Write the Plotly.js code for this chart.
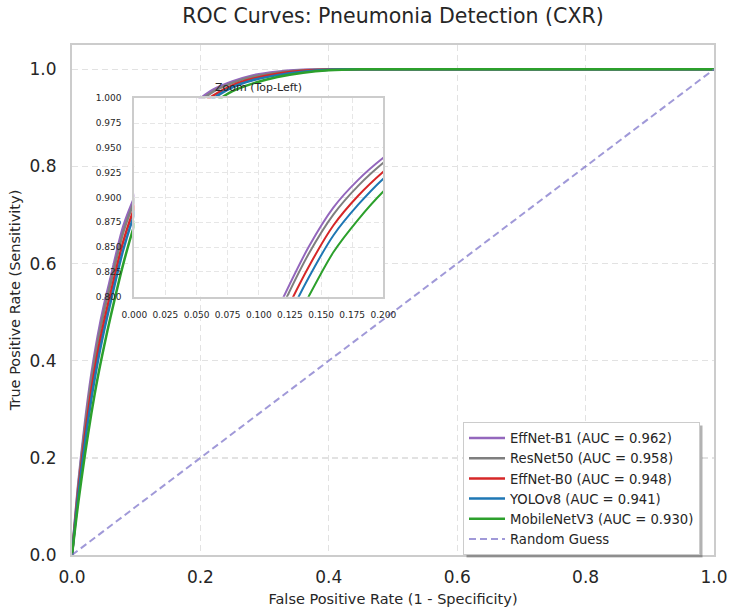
<!DOCTYPE html>
<html>
<head>
<meta charset="utf-8">
<script src="https://cdn.plot.ly/plotly-3.0.1.min.js"></script>
<style>html,body{margin:0;padding:0;background:#fff;}#chart{width:731px;height:610px;}</style>
</head>
<body>
<div id="chart"></div>
<script>
// ---- data ----
const fpr = [0, 0.01, 0.02, 0.03, 0.04, 0.05, 0.06, 0.08, 0.10, 0.12, 0.14, 0.16, 0.18, 0.20, 0.22, 0.25, 0.28, 0.32, 0.36, 0.40, 0.45, 0.50, 0.60, 0.70, 0.80, 0.90, 1.0];
const tprEffNetB1   = [0, 0.150, 0.270, 0.370, 0.450, 0.515, 0.570, 0.677, 0.745, 0.800, 0.850, 0.890, 0.918, 0.940, 0.958, 0.975, 0.987, 0.995, 0.999, 1.0, 1.0, 1.0, 1.0, 1.0, 1.0, 1.0, 1.0];
const tprResNet50   = [0, 0.144, 0.260, 0.358, 0.437, 0.502, 0.558, 0.665, 0.737, 0.793, 0.843, 0.883, 0.912, 0.935, 0.954, 0.972, 0.984, 0.993, 0.998, 1.0, 1.0, 1.0, 1.0, 1.0, 1.0, 1.0, 1.0];
const tprEffNetB0   = [0, 0.134, 0.244, 0.338, 0.416, 0.481, 0.538, 0.646, 0.723, 0.780, 0.830, 0.872, 0.902, 0.926, 0.946, 0.967, 0.980, 0.991, 0.997, 0.999, 1.0, 1.0, 1.0, 1.0, 1.0, 1.0, 1.0];
const tprYOLOv8     = [0, 0.125, 0.230, 0.320, 0.397, 0.462, 0.520, 0.629, 0.711, 0.769, 0.819, 0.862, 0.893, 0.919, 0.940, 0.963, 0.977, 0.988, 0.995, 0.999, 1.0, 1.0, 1.0, 1.0, 1.0, 1.0, 1.0];
const tprMobileNet  = [0, 0.110, 0.205, 0.290, 0.365, 0.430, 0.490, 0.600, 0.690, 0.750, 0.800, 0.845, 0.878, 0.906, 0.929, 0.955, 0.970, 0.984, 0.993, 0.998, 1.0, 1.0, 1.0, 1.0, 1.0, 1.0, 1.0];
const modelNames = ["EffNet-B1", "ResNet50", "EffNet-B0", "YOLOv8", "MobileNetV3"];
const aucValues  = [0.962, 0.958, 0.948, 0.941, 0.930];
const randomX = [0, 1];
const randomY = [0, 1];
const xTicks = [0, 0.2, 0.4, 0.6, 0.8, 1.0];
const yTicks = [0, 0.2, 0.4, 0.6, 0.8, 1.0];
const insetXTicks = [0, 0.025, 0.05, 0.075, 0.1, 0.125, 0.15, 0.175, 0.2];
const insetYTicks = [0.8, 0.825, 0.85, 0.875, 0.9, 0.925, 0.95, 0.975, 1.0];

// ---- styles ----
const series = [tprEffNetB1, tprResNet50, tprEffNetB0, tprYOLOv8, tprMobileNet];
const colors = ["#9467bd", "#7f7f7f", "#d62728", "#1f77b4", "#2ca02c"];
const FONT = "DejaVu Sans, Verdana, sans-serif";
const TXT = "#262626";

const traces = [];
series.forEach((tpr, i) => {
  traces.push({
    x: fpr, y: tpr, type: "scatter", mode: "lines",
    name: modelNames[i] + " (AUC = " + aucValues[i].toFixed(3) + ")",
    line: {color: colors[i], width: 2.5, shape: "spline", smoothing: 0.8},
    xaxis: "x", yaxis: "y", hoverinfo: "skip"
  });
});
traces.push({
  x: randomX, y: randomY, type: "scatter", mode: "lines", name: "Random Guess",
  line: {color: "rgba(120,110,200,0.7)", width: 2, dash: "7px,4px"},
  xaxis: "x", yaxis: "y"
});
series.forEach((tpr, i) => {
  traces.push({
    x: fpr, y: tpr, type: "scatter", mode: "lines", showlegend: false,
    line: {color: colors[i], width: 2, shape: "spline", smoothing: 0.8},
    xaxis: "x2", yaxis: "y2", hoverinfo: "skip"
  });
});

const W = 731, H = 610;
const L = 72, R = 714, T = 45, B = 555;
const pw = R - L, ph = B - T;
const px = v => (v - L) / pw;
const py = v => (B - v) / ph;

const layout = {
  width: W, height: H,
  margin: {l: L, r: W - R, t: T, b: H - B, pad: 0},
  paper_bgcolor: "#ffffff", plot_bgcolor: "#ffffff",
  font: {family: FONT, color: TXT},
  showlegend: true,
  title: {text: "ROC Curves: Pneumonia Detection (CXR)", font: {size: 20.5, color: TXT, family: FONT},
          x: 0.5, xref: "paper", xanchor: "center", y: 1 - 16 / H, yref: "container", yanchor: "middle"},
  xaxis: {
    domain: [0, 1], range: [0, 1], tickvals: xTicks, tickformat: ".1f",
    tickfont: {size: 17, color: TXT}, ticks: "", ticklabelstandoff: 6,
    showgrid: true, gridcolor: "#e2e2e2", gridwidth: 1.3, griddash: "6px,4px",
    showline: true, mirror: true, linecolor: "#cccccc", linewidth: 2, zeroline: false,
    title: {text: "False Positive Rate (1 - Specificity)", font: {size: 14.5, color: TXT}, standoff: 7}
  },
  yaxis: {
    domain: [0, 1], range: [0, 1.05], tickvals: yTicks, tickformat: ".1f",
    tickfont: {size: 17, color: TXT}, ticks: "", ticklabelstandoff: 10,
    showgrid: true, gridcolor: "#e2e2e2", gridwidth: 1.3, griddash: "6px,4px",
    showline: true, mirror: true, linecolor: "#cccccc", linewidth: 2, zeroline: false,
    title: {text: "True Positive Rate (Sensitivity)", font: {size: 14.5, color: TXT}, standoff: 5}
  },
  xaxis2: {
    domain: [px(134.3), px(383.3)], anchor: "y2", range: [0, 0.2], tickvals: insetXTicks, tickformat: ".3f",
    tickfont: {size: 9, color: TXT}, ticks: "", ticklabelstandoff: 8,
    showgrid: true, gridcolor: "#e6e6e6", gridwidth: 1, griddash: "5px,3px",
    showline: true, mirror: true, linecolor: "#cccccc", linewidth: 2, zeroline: false
  },
  yaxis2: {
    domain: [py(296.7), py(98.3)], anchor: "x2", range: [0.8, 1.0], tickvals: insetYTicks, tickformat: ".3f",
    tickfont: {size: 9, color: TXT}, ticks: "", ticklabelstandoff: 9,
    showgrid: true, gridcolor: "#e6e6e6", gridwidth: 1, griddash: "5px,3px",
    showline: true, mirror: true, linecolor: "#cccccc", linewidth: 2, zeroline: false
  },
  legend: {
    x: px(463), y: py(422), xanchor: "left", yanchor: "top",
    bgcolor: "#ffffff", bordercolor: "#cccccc", borderwidth: 1, itemwidth: 36,
    font: {size: 13.2, color: TXT, family: FONT}, tracegroupgap: 0
  },
  annotations: [{
    text: "Zoom (Top-Left)", x: (px(134.3) + px(383.3)) / 2, y: py(87), xref: "paper", yref: "paper",
    xanchor: "center", yanchor: "middle", showarrow: false, font: {size: 11, color: TXT}
  }],
  shapes: []
};

Plotly.newPlot("chart", traces, layout, {staticPlot: true, displayModeBar: false}).then(gd => {
  // legend shadow, placed from the legend's measured box
  const bg = gd.querySelector(".legend .bg");
  const svg = gd.querySelector(".main-svg");
  if (!bg || !svg) return;
  const r = bg.getBoundingClientRect();
  const s = svg.getBoundingClientRect();
  const x0 = r.left - s.left + 3, x1 = r.right - s.left + 3;
  const y0 = r.top - s.top + 3, y1 = r.bottom - s.top + 3;
  return Plotly.relayout(gd, {shapes: [{
    type: "rect", xref: "paper", yref: "paper", layer: "above",
    x0: px(x0), x1: px(x1), y0: py(y1), y1: py(y0),
    fillcolor: "rgba(0,0,0,0.3)", line: {width: 0}
  }]});
});
</script>
</body>
</html>
